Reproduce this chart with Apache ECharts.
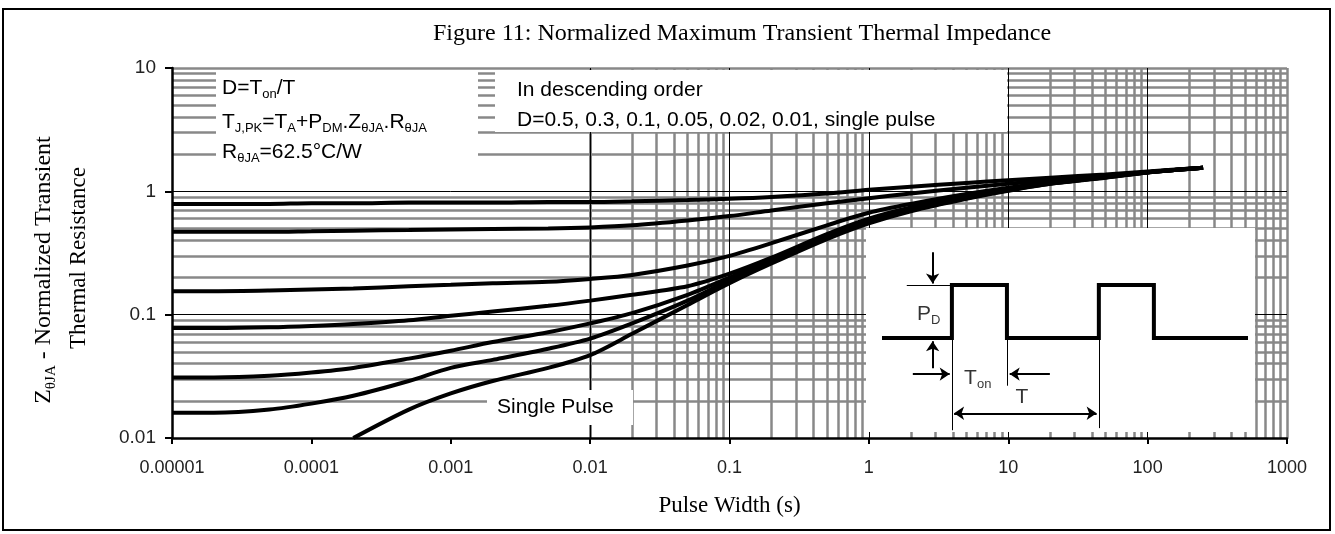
<!DOCTYPE html>
<html>
<body style="margin:0">

<!-- The div where the chart will be shown -->
<div id="zthChart" style="width:1335px; height:534px;"></div>

<script src="https://cdn.jsdelivr.net/npm/echarts@6/dist/echarts.min.js"></script>

<script>
  // Values
  var pulseWidth = [1e-5, 2e-5, 5e-5, 1e-4, 2e-4, 5e-4, 1e-3, 2e-3, 5e-3, 1e-2, 2e-2, 5e-2,
    0.1, 0.2, 0.5, 1, 2, 5, 10, 20, 50, 100, 250];

  var zD050 = [0.79, 0.79, 0.79, 0.80, 0.80, 0.81, 0.81, 0.81, 0.82, 0.82, 0.83, 0.85,
    0.87, 0.90, 0.96, 1.03, 1.09, 1.17, 1.23, 1.29, 1.37, 1.45, 1.55];
  var zD030 = [0.47, 0.47, 0.47, 0.475, 0.48, 0.485, 0.49, 0.495, 0.50, 0.51, 0.53, 0.58,
    0.63, 0.70, 0.80, 0.88, 0.96, 1.07, 1.15, 1.23, 1.34, 1.43, 1.55];
  var zD010 = [0.155, 0.155, 0.157, 0.16, 0.163, 0.17, 0.175, 0.18, 0.185, 0.195, 0.21, 0.25,
    0.30, 0.38, 0.53, 0.67, 0.79, 0.95, 1.07, 1.18, 1.32, 1.43, 1.55];
  var zD005 = [0.078, 0.078, 0.079, 0.081, 0.084, 0.09, 0.098, 0.106, 0.118, 0.13, 0.145, 0.17,
    0.215, 0.29, 0.45, 0.60, 0.74, 0.91, 1.05, 1.17, 1.31, 1.43, 1.55];
  var zD002 = [0.031, 0.031, 0.032, 0.034, 0.037, 0.044, 0.051, 0.06, 0.072, 0.085, 0.103, 0.145,
    0.20, 0.28, 0.43, 0.57, 0.71, 0.89, 1.03, 1.16, 1.30, 1.43, 1.55];
  var zD001 = [0.016, 0.016, 0.017, 0.019, 0.022, 0.029, 0.037, 0.043, 0.053, 0.064, 0.085, 0.13,
    0.19, 0.27, 0.42, 0.56, 0.70, 0.88, 1.02, 1.15, 1.30, 1.42, 1.55];
  var zSingle = [null, null, null, null, 0.01, 0.017, 0.023, 0.029, 0.037, 0.047, 0.07, 0.12,
    0.18, 0.26, 0.41, 0.55, 0.69, 0.87, 1.01, 1.15, 1.29, 1.42, 1.55];

  var curveNames = ['D=0.5', 'D=0.3', 'D=0.1', 'D=0.05', 'D=0.02', 'D=0.01', 'Single Pulse'];
  var curveValues = [zD050, zD030, zD010, zD005, zD002, zD001, zSingle];

  var xTickLabels = ['0.00001', '0.0001', '0.001', '0.01', '0.1', '1', '10', '100', '1000'];
  var yTickLabels = ['0.01', '0.1', '1', '10'];
  var gridMultipliers = [2, 3, 4, 5, 6, 7, 8, 9];

  // Inset sketch of the pulse train, x in units of Ton, y in units of PD
  var pulseX = [-1.27, 0, 0, 1, 1, 2.67, 2.67, 3.67, 3.67, 5.38];
  var pulseY = [0, 0, 1, 1, 0, 0, 1, 1, 0, 0];
  var guideLines = [
    [[-0.82, 1], [0, 1]],
    [[0, 1], [0, -1.74]],
    [[1, 0], [1, -0.9]],
    [[2.67, 0], [2.67, -1.7]]
  ];
  var arrowLines = [
    [[-0.35, 1.62], [-0.35, 1.03]],
    [[-0.35, -0.57], [-0.35, -0.06]],
    [[-0.71, -0.68], [-0.04, -0.68]],
    [[1.78, -0.68], [1.05, -0.68]]
  ];
  var periodArrow = [[[0.04, -1.42], [2.63, -1.42]]];
  var insetLabels = [
    { text: '{m|P}{s|D}', at: [-0.42, 0.45] },
    { text: '{m|T}{s|on}', at: [0.47, -0.76] },
    { text: '{m|T}', at: [1.27, -1.12] }
  ];

  function pairs(xs, ys) {
    var out = [];
    for (var i = 0; i < xs.length; i++) {
      if (ys[i] != null) out.push([xs[i], ys[i]]);
    }
    return out;
  }

  // grid lines of the log paper: grey at 2..9, thin black at the decades
  var minorLines = [];
  var decadeLines = [];
  for (var e = -5; e <= 2; e++) {
    gridMultipliers.forEach(function (m) { minorLines.push({ xAxis: m * Math.pow(10, e) }); });
    if (e > -5) decadeLines.push({ xAxis: Math.pow(10, e) });
  }
  decadeLines.push({ xAxis: 100 });
  minorLines.push({ xAxis: 1000 });
  for (var e2 = -2; e2 <= 0; e2++) {
    gridMultipliers.forEach(function (m) { minorLines.push({ yAxis: m * Math.pow(10, e2) }); });
    if (e2 > -2) decadeLines.push({ yAxis: Math.pow(10, e2) });
  }
  minorLines.push({ yAxis: 10 });

  var sans = 'Liberation Sans';
  var serif = 'Liberation Serif';

  function richText(size, subSize, family) {
    return {
      n: { fontFamily: family, fontSize: size, lineHeight: size + 5, fill: '#000' },
      s: { fontFamily: family, fontSize: subSize, lineHeight: subSize, verticalAlign: 'bottom', fill: '#000' }
    };
  }

  // the white panels sit above the markLine grid (markLine z is 5)
  function boxText(x, y, text) {
    return {
      type: 'text', x: x, y: y, z: 51,
      style: { text: text, rich: richText(21, 13, sans), verticalAlign: 'middle' }
    };
  }

  function whiteBox(x, y, w, h) {
    return { type: 'rect', z: 50, shape: { x: x, y: y, width: w, height: h }, style: { fill: '#fff' } };
  }

  var series = [{
    type: 'line', name: 'minor grid', z: 1, silent: true,
    data: [[1, 1]], symbol: 'none', lineStyle: { opacity: 0 },
    markLine: {
      silent: true, symbol: ['none', 'none'], label: { show: false },
      lineStyle: { color: '#888', width: 2.5, type: 'solid' },
      data: minorLines
    }
  }, {
    type: 'line', name: 'decade grid', z: 2, silent: true,
    data: [[1, 1]], symbol: 'none', lineStyle: { opacity: 0 },
    markLine: {
      silent: true, symbol: ['none', 'none'], label: { show: false },
      lineStyle: { color: '#000', width: 1, type: 'solid' },
      data: decadeLines
    }
  }];

  curveValues.forEach(function (ys, i) {
    series.push({
      type: 'line', name: curveNames[i], z: 55,
      data: pairs(pulseWidth, ys),
      symbol: 'none', smooth: 0.3,
      lineStyle: { color: '#000', width: 4 }
    });
  });

  // inset pulse train
  series.push({
    type: 'line', xAxisIndex: 1, yAxisIndex: 1, z: 60,
    data: pairs(pulseX, pulseY), symbol: 'none',
    lineStyle: { color: '#000', width: 4, join: 'miter' }
  });
  series.push({
    type: 'lines', coordinateSystem: 'cartesian2d', xAxisIndex: 1, yAxisIndex: 1, z: 60,
    symbol: ['none', 'none'],
    lineStyle: { color: '#000', width: 1, opacity: 1 },
    data: guideLines.map(function (c) { return { coords: c }; })
  });
  series.push({
    type: 'lines', coordinateSystem: 'cartesian2d', xAxisIndex: 1, yAxisIndex: 1, z: 60,
    symbol: ['none', 'arrow'], symbolSize: 10,
    lineStyle: { color: '#000', width: 2, opacity: 1 },
    data: arrowLines.map(function (c) { return { coords: c }; })
  });
  series.push({
    type: 'lines', coordinateSystem: 'cartesian2d', xAxisIndex: 1, yAxisIndex: 1, z: 60,
    symbol: ['arrow', 'arrow'], symbolSize: 10,
    lineStyle: { color: '#000', width: 2, opacity: 1 },
    data: periodArrow.map(function (c) { return { coords: c }; })
  });
  series.push({
    type: 'scatter', xAxisIndex: 1, yAxisIndex: 1, z: 60, symbolSize: 0,
    data: insetLabels.map(function (d) { return { name: d.text, value: d.at }; }),
    label: {
      show: true, position: 'inside', formatter: '{b}',
      rich: {
        m: { fontFamily: sans, fontSize: 21, lineHeight: 26, color: '#000' },
        s: { fontFamily: sans, fontSize: 13, lineHeight: 13, verticalAlign: 'bottom', color: '#000' }
      }
    }
  });

  var option = {
    animation: false,
    backgroundColor: '#fff',
    title: {
      text: 'Figure 11: Normalized Maximum Transient Thermal Impedance',
      left: 428, top: 17,
      textStyle: { fontFamily: serif, fontSize: 24, fontWeight: 'normal', color: '#000' }
    },
    grid: [
      { left: 172, right: 48, top: 68, bottom: 96 },
      { left: 882, top: 245, width: 366, height: 190 }
    ],
    xAxis: [{
      type: 'log', logBase: 10, min: 1e-5, max: 1000, splitNumber: 8, z: 7,
      axisLine: { lineStyle: { color: '#000', width: 2.5 } },
      axisTick: { show: true, length: 6, lineStyle: { color: '#000', width: 2 } },
      axisLabel: {
        color: '#222', fontFamily: sans, fontSize: 18, margin: 21,
        formatter: function (v) { return xTickLabels[Math.round(Math.log10(v)) + 5]; }
      },
      splitLine: { show: false },
      name: 'Pulse Width (s)', nameLocation: 'middle', nameGap: 56,
      nameTextStyle: { fontFamily: serif, fontSize: 23, color: '#000' }
    }, {
      type: 'value', gridIndex: 1, min: -1.27, max: 5.38, show: false
    }],
    yAxis: [{
      type: 'log', logBase: 10, min: 0.01, max: 10, splitNumber: 3, z: 7,
      axisLine: { lineStyle: { color: '#000', width: 2.5 } },
      axisTick: { show: true, length: 7, lineStyle: { color: '#000', width: 2 } },
      axisLabel: {
        color: '#222', fontFamily: sans, fontSize: 19, margin: 16,
        formatter: function (v) { return yTickLabels[Math.round(Math.log10(v)) + 2]; }
      },
      splitLine: { show: false }
    }, {
      type: 'value', gridIndex: 1, min: -1.83, max: 1.755, show: false
    }],
    graphic: [
      { type: 'rect', z: 70, shape: { x: 3, y: 9, width: 1327, height: 521 },
        style: { fill: 'none', stroke: '#000', lineWidth: 2 } },
      whiteBox(216, 70, 262, 105),
      whiteBox(495, 70, 512, 62),
      whiteBox(487, 390, 146, 35),
      whiteBox(866, 228, 389, 204),
      boxText(222, 88, '{n|D=T}{s|on}{n|/T}'),
      boxText(222, 122, '{n|T}{s|J,PK}{n|=T}{s|A}{n|+P}{s|DM}{n|.Z}{s|θJA}{n|.R}{s|θJA}'),
      boxText(222, 152, '{n|R}{s|θJA}{n|=62.5°C/W}'),
      boxText(517, 90, '{n|In descending order}'),
      boxText(517, 120, '{n|D=0.5, 0.3, 0.1, 0.05, 0.02, 0.01, single pulse}'),
      boxText(497, 407, '{n|Single Pulse}'),
      { type: 'text', x: 44, y: 270, rotation: Math.PI / 2, z: 6,
        style: { text: '{n|Z}{s|θJA}{n| - Normalized Transient}', rich: richText(24, 15, serif),
          align: 'center', verticalAlign: 'middle' } },
      { type: 'text', x: 79, y: 258, rotation: Math.PI / 2, z: 6,
        style: { text: '{n|Thermal Resistance}', rich: richText(23, 14, serif),
          align: 'center', verticalAlign: 'middle' } }
    ],
    series: series
  };

  var chart = echarts.init(document.getElementById('zthChart'));
  chart.setOption(option);
</script>
</body>
</html>
